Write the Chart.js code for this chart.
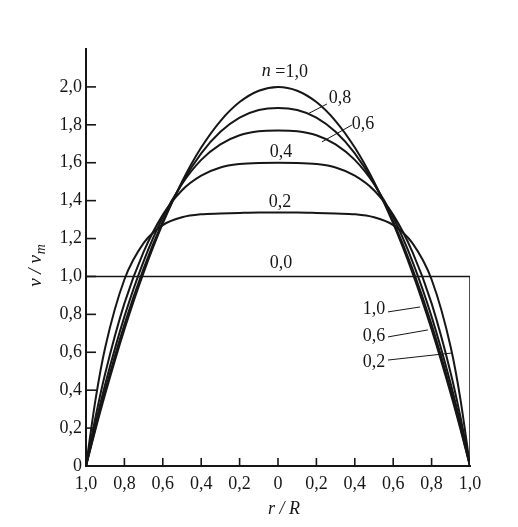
<!DOCTYPE html>
<html>
<head>
<meta charset="utf-8">
<script src="https://cdn.jsdelivr.net/npm/chart.js@4.4.1/dist/chart.umd.min.js"></script>
<style>
    html, body { margin: 0; padding: 0; background: #fff; }
    #wrap { width: 518px; height: 527px; }
</style>
</head>
<body>
<div id="wrap"><canvas id="profile" width="518" height="527"></canvas></div>
<script>
// r/R positions (left wall -1 ... axis 0 ... right wall 1)
var rPos = [-1, -0.95, -0.9, -0.8, -0.7, -0.6, -0.5, -0.4, -0.3, -0.2, -0.1, 0,
    0.1, 0.2, 0.3, 0.4, 0.5, 0.6, 0.7, 0.8, 0.9, 0.95, 1];

// v/vm
var n10 = [0, 0.195, 0.38, 0.72, 1.02, 1.28, 1.50, 1.68, 1.82, 1.92, 1.98, 2.00,
    1.98, 1.92, 1.82, 1.68, 1.50, 1.28, 1.02, 0.72, 0.38, 0.195, 0];
var n08 = [0, 0.206, 0.399, 0.746, 1.042, 1.290, 1.492, 1.649, 1.763, 1.838, 1.878, 1.889,
    1.878, 1.838, 1.763, 1.649, 1.492, 1.290, 1.042, 0.746, 0.399, 0.206, 0];
var n06 = [0, 0.225, 0.431, 0.788, 1.080, 1.312, 1.488, 1.615, 1.697, 1.745, 1.766, 1.770,
    1.766, 1.745, 1.697, 1.615, 1.488, 1.312, 1.080, 0.788, 0.431, 0.225, 0];
var n04 = [0, 0.260, 0.488, 0.858, 1.130, 1.325, 1.455, 1.532, 1.575, 1.593, 1.599, 1.600,
    1.599, 1.593, 1.575, 1.532, 1.455, 1.325, 1.130, 0.858, 0.488, 0.260, 0];
var n02 = [0, 0.353, 0.625, 0.984, 1.176, 1.271, 1.312, 1.328, 1.332, 1.335, 1.337, 1.337,
    1.337, 1.335, 1.332, 1.328, 1.312, 1.271, 1.176, 0.984, 0.625, 0.353, 0];
// n = 0: plug flow
var n00R = [-1, -1, 1, 1];
var n00V = [0, 1.0, 1.0, 0];

var xTicks = [-1, -0.8, -0.6, -0.4, -0.2, 0, 0.2, 0.4, 0.6, 0.8, 1];
var yTicks = [0, 0.2, 0.4, 0.6, 0.8, 1.0, 1.2, 1.4, 1.6, 1.8, 2.0];

// curve labels [text, r, v]
var curveLabels = [
    ['1,0', 0.036, 2.079],
    ['0,8', 0.323, 1.942],
    ['0,6', 0.443, 1.805],
    ['0,4', 0.016, 1.657],
    ['0,2', 0.010, 1.393],
    ['0,0', 0.016, 1.071],
    ['1,0', 0.500, 0.828],
    ['0,6', 0.500, 0.686],
    ['0,2', 0.500, 0.549]
];
// leader lines [r1, v1, r2, v2]
var leaders = [
    [0.156, 1.858, 0.255, 1.910],
    [0.229, 1.710, 0.385, 1.799],
    [0.573, 0.813, 0.740, 0.839],
    [0.573, 0.681, 0.781, 0.718],
    [0.573, 0.559, 0.906, 0.596]
];

var ink = '#161616';
var serif = '"Liberation Serif", "DejaVu Serif", serif';

function pts(xs, ys) {
    return xs.map(function (x, i) { return { x: x, y: ys[i] }; });
}

function comma(v) {
    var a = Math.abs(v);
    if (a < 1e-9) return '0';
    return a.toFixed(1).replace('.', ',');
}

function curve(values) {
    return {
        data: pts(rPos, values),
        borderColor: ink,
        borderWidth: 2,
        pointRadius: 0,
        fill: false,
        cubicInterpolationMode: 'monotone'
    };
}

var decorPlugin = {
    id: 'decor',
    afterDraw: function (chart) {
        var c = chart.ctx;
        var xs = chart.scales.x, ys = chart.scales.y;
        var area = chart.chartArea;
        c.save();
        c.strokeStyle = ink;
        c.lineWidth = 1.6;

        // inward tick marks
        xTicks.forEach(function (t) {
            if (Math.abs(t) > 0.99) return;
            var px = xs.getPixelForValue(t);
            c.beginPath();
            c.moveTo(px, area.bottom);
            c.lineTo(px, area.bottom - 8);
            c.stroke();
        });
        yTicks.forEach(function (t) {
            if (t === 0) return;
            var py = ys.getPixelForValue(t);
            c.beginPath();
            c.moveTo(area.left, py);
            c.lineTo(area.left + 10, py);
            c.stroke();
        });

        // leaders
        c.lineWidth = 1;
        leaders.forEach(function (l) {
            c.beginPath();
            c.moveTo(xs.getPixelForValue(l[0]), ys.getPixelForValue(l[1]));
            c.lineTo(xs.getPixelForValue(l[2]), ys.getPixelForValue(l[3]));
            c.stroke();
        });

        // curve labels
        c.fillStyle = ink;
        c.textBaseline = 'middle';
        c.textAlign = 'center';
        c.font = '18px ' + serif;
        curveLabels.forEach(function (l, i) {
            var px = xs.getPixelForValue(l[1]);
            var py = ys.getPixelForValue(l[2]);
            if (i === 0) {
                // "n =1,0" centred on the point
                c.font = 'italic 18px ' + serif;
                var wn = c.measureText('n').width;
                c.font = '18px ' + serif;
                var we = c.measureText(' =').width;
                var wv = c.measureText(l[0]).width;
                var x0 = px - (wn + we + wv) / 2;
                c.textAlign = 'left';
                c.font = 'italic 18px ' + serif;
                c.fillText('n', x0, py - 1);
                c.font = '18px ' + serif;
                c.fillText(' =', x0 + wn, py);
                c.fillText(l[0], x0 + wn + we, py);
                c.textAlign = 'center';
            } else {
                c.fillText(l[0], px, py);
            }
        });

        // axis titles
        c.font = 'italic 18px ' + serif;
        c.textAlign = 'center';
        c.fillText('r / R', 284, 509);

        c.translate(36, 266);
        c.rotate(-Math.PI / 2);
        c.textAlign = 'left';
        c.font = 'italic 19px ' + serif;
        var main = 'v / v';
        var w = c.measureText(main).width;
        var xm = -(w + 10) / 2;
        c.fillText(main, xm, 0);
        c.font = 'italic 14px ' + serif;
        c.fillText('m', xm + w + 1, 5);
        c.restore();
    }
};

var datasets = [
    curve(n10), curve(n08), curve(n06), curve(n04), curve(n02),
    {
        data: pts(n00R, n00V),
        borderColor: ink,
        borderWidth: 1.5,
        pointRadius: 0,
        fill: false,
        tension: 0
    }
];

var config = {
    type: 'line',
    data: { datasets: datasets },
    options: {
        responsive: false,
        animation: false,
        layout: { padding: { left: 0, right: 48, top: 49, bottom: 0 } },
        plugins: {
            legend: { display: false },
            tooltip: { enabled: false }
        },
        scales: {
            x: {
                type: 'linear',
                min: -1,
                max: 1,
                grid: { display: false, drawTicks: false },
                border: { display: true, color: ink, width: 2 },
                afterBuildTicks: function (s) {
                    s.ticks = xTicks.map(function (v) { return { value: v }; });
                },
                afterFit: function (s) { s.height = 61; },
                ticks: {
                    padding: 7,
                    color: ink,
                    maxRotation: 0,
                    autoSkip: false,
                    font: { family: serif, size: 18 },
                    callback: function (v) { return comma(v); }
                }
            },
            y: {
                type: 'linear',
                min: 0,
                max: 2.2,
                grid: { display: false, drawTicks: false },
                border: { display: true, color: ink, width: 2 },
                afterBuildTicks: function (s) {
                    s.ticks = yTicks.map(function (v) { return { value: v }; });
                },
                afterFit: function (s) { s.width = 86; },
                ticks: {
                    padding: 4,
                    color: ink,
                    autoSkip: false,
                    font: { family: serif, size: 18 },
                    callback: function (v) { return comma(v); }
                }
            }
        }
    },
    plugins: [decorPlugin]
};

var profileChart = new Chart(document.getElementById('profile'), config);
</script>
</body>
</html>
